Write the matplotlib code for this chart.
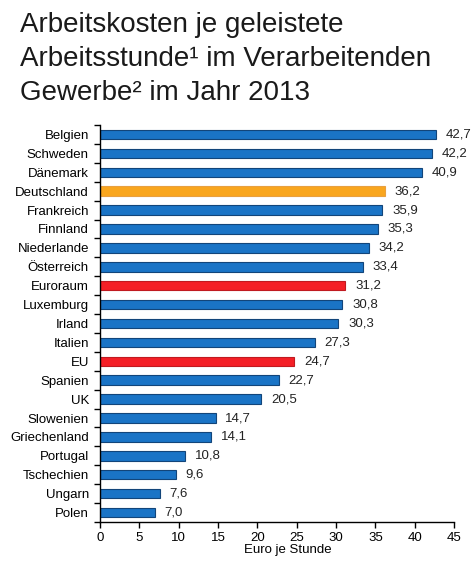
import matplotlib
matplotlib.use("Agg")
import matplotlib.pyplot as plt
import numpy as np

plt.rcParams['font.family'] = ['Liberation Sans', 'DejaVu Sans']

laender = ["Belgien", "Schweden", "Dänemark", "Deutschland", "Frankreich", "Finnland",
           "Niederlande", "Österreich", "Euroraum", "Luxemburg", "Irland", "Italien",
           "EU", "Spanien", "UK", "Slowenien", "Griechenland", "Portugal",
           "Tschechien", "Ungarn", "Polen"]
kosten = [42.7, 42.2, 40.9, 36.2, 35.9, 35.3, 34.2, 33.4, 31.2, 30.8, 30.3, 27.3,
          24.7, 22.7, 20.5, 14.7, 14.1, 10.8, 9.6, 7.6, 7.0]
x_ticks = [0, 5, 10, 15, 20, 25, 30, 35, 40, 45]

blau = "#1a74c6"
farben = []
kanten = []
for name in laender:
    if name == "Deutschland":
        farben.append("#f9a61e")
        kanten.append("#e8a040")
    elif name in ("Euroraum", "EU"):
        farben.append("#f41f26")
        kanten.append("#c01a20")
    else:
        farben.append(blau)
        kanten.append("#12457a")

fig = plt.figure(figsize=(4.77, 5.70), dpi=100)
ax = fig.add_axes([100/477, 1 - 522/570, 354/477, 397/570])

y = np.arange(len(laender))
ax.barh(y, kosten, height=0.5, color=farben, edgecolor=kanten, linewidth=0.8)

for yi, v in zip(y, kosten):
    ax.annotate(f"{v:.1f}".replace(".", ","), (v, yi), xytext=(7, 0),
                textcoords="offset points", va="center", ha="left", fontsize=9.5,
                color="#222222")

ax.set_xlim(0, 45)
ax.set_ylim(len(laender) - 0.5, -0.5)
ax.set_xticks(x_ticks)
ax.set_xticklabels([str(t) for t in x_ticks], fontsize=9.5)
ax.set_yticks(y)
ax.set_yticklabels(laender, fontsize=9.5)
ax.tick_params(axis="y", length=0, pad=8)
ax.set_yticks(np.arange(len(laender) + 1) - 0.5, minor=True)
ax.tick_params(axis="y", which="minor", length=4, width=1, direction="out")
ax.tick_params(axis="x", length=4, width=1, direction="out", pad=3)
for s in ("top", "right"):
    ax.spines[s].set_visible(False)
ax.spines["left"].set_linewidth(1)
ax.spines["bottom"].set_linewidth(1)
ax.set_xlabel("Euro je Stunde", fontsize=9.5, labelpad=1)
ax.xaxis.set_label_coords(0.53, -0.055)

fig.text(20/477, 1 - 12/570,
         "Arbeitskosten je geleistete\nArbeitsstunde¹ im Verarbeitenden\nGewerbe² im Jahr 2013",
         fontsize=20, ha="left", va="top", color="#1a1a1a", linespacing=1.4)

fig.savefig("out.png", dpi=100)
